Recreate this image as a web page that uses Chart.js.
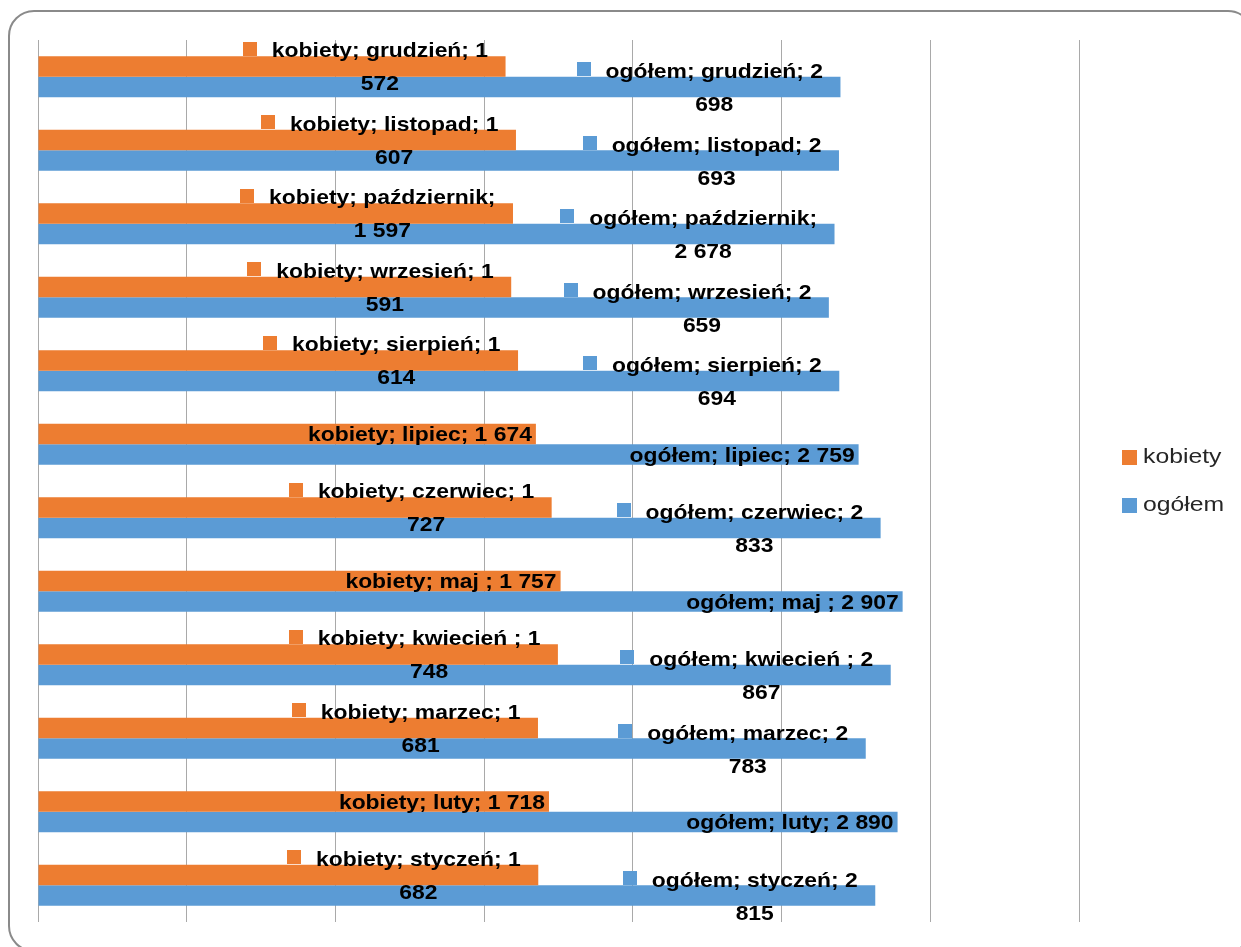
<!DOCTYPE html>
<html lang="pl">
<head>
<meta charset="utf-8">
<title>kobiety / ogółem</title>
<script src="https://cdn.jsdelivr.net/npm/chart.js@4.4.1/dist/chart.umd.min.js"></script>
<style>
    html, body { margin: 0; padding: 0; background: #fff; overflow: hidden; }
    #wrap { position: relative; width: 1241px; height: 947px; overflow: hidden; }
    #frame {
        position: absolute; left: 8px; top: 10px; width: 1246px; height: 942px;
        box-sizing: border-box; border: 2px solid #8a8a8a; border-radius: 26px;
    }
    #chart { position: absolute; left: 0; top: 0; }
</style>
</head>
<body>
<div id="wrap">
    <div id="frame"></div>
    <canvas id="chart" width="1241" height="947"></canvas>
</div>
<script>
// --- dane ---
const months = ['styczeń', 'luty', 'marzec', 'kwiecień ', 'maj ', 'czerwiec',
                'lipiec', 'sierpień', 'wrzesień', 'październik', 'listopad', 'grudzień'];
const kobiety = [1682, 1718, 1681, 1748, 1757, 1727, 1674, 1614, 1591, 1597, 1607, 1572];
const ogolem  = [2815, 2890, 2783, 2867, 2907, 2833, 2759, 2694, 2659, 2678, 2693, 2698];
const seriesNames = ['kobiety', 'ogółem'];
const seriesColors = ['#ED7D31', '#5B9BD5'];
const axisMax = 3500;
const axisStep = 500;

const FONT = '"Liberation Sans", Arial, sans-serif';
const LABEL_SX = 1.09;      // węższy Calibri -> rozciągnięcie w poziomie
const LABEL_MAX_W = 235;
const LINE_H = 33;

function fmt(v) {
    return String(v).replace(/\B(?=(\d{3})+(?!\d))/g, ' ');
}

function wrapWords(ctx, text) {
    const words = text.split(' ');
    const lines = [];
    let cur = '';
    words.forEach(w => {
        const test = cur ? cur + ' ' + w : w;
        if (cur && ctx.measureText(test).width * LABEL_SX > LABEL_MAX_W) {
            lines.push(cur);
            cur = w;
        } else {
            cur = test;
        }
    });
    if (cur) lines.push(cur);
    return lines;
}

function drawScaled(ctx, text, x, y, sx) {
    ctx.save();
    ctx.translate(x, y);
    ctx.scale(sx, 1);
    ctx.fillText(text, 0, 0);
    ctx.restore();
}

// etykiety danych w stylu Excela (klucz legendy + tekst zawijany)
const barLabels = {
    id: 'barLabels',
    afterDatasetsDraw(chart) {
        const ctx = chart.ctx;
        ctx.save();
        ctx.font = 'bold 21px ' + FONT;
        ctx.textBaseline = 'middle';
        ctx.textAlign = 'left';
        chart.data.datasets.forEach((ds, di) => {
            const meta = chart.getDatasetMeta(di);
            meta.data.forEach((bar, i) => {
                const text = `${ds.label}; ${chart.data.labels[i]}; ${fmt(ds.data[i])}`;
                const lines = wrapWords(ctx, text);
                const widths = lines.map(l => ctx.measureText(l).width * LABEL_SX);
                const maxW = Math.max(...widths);
                const wrapped = lines.length > 1;
                const right = bar.x - (wrapped ? 17.5 : 4);
                const left = right - maxW;
                const yc = bar.y + (wrapped ? 1.7 : 1.5);
                const y0 = yc - (lines.length - 1) / 2 * LINE_H;

                ctx.fillStyle = ds.backgroundColor;
                ctx.fillRect(Math.round(left - 29), Math.round(y0 - 10), 14, 14);

                ctx.fillStyle = '#000';
                lines.forEach((l, li) => {
                    drawScaled(ctx, l, left + (maxW - widths[li]) / 2, y0 + li * LINE_H, LABEL_SX);
                });
            });
        });
        ctx.restore();
    }
};

// legenda po prawej
const sideLegend = {
    id: 'sideLegend',
    afterDraw(chart) {
        const ctx = chart.ctx;
        const area = chart.chartArea;
        const cx = area.right + 43;
        const cy = (area.top + area.bottom) / 2;
        ctx.save();
        ctx.font = '19.5px ' + FONT;
        ctx.textBaseline = 'middle';
        ctx.textAlign = 'left';
        chart.data.datasets.forEach((ds, di) => {
            const y = cy + (di - 0.5) * 48;
            ctx.fillStyle = ds.backgroundColor;
            ctx.fillRect(cx, Math.round(y - 7.5), 15, 15);
            ctx.fillStyle = '#262626';
            drawScaled(ctx, ds.label, cx + 21, y + 1, 1.27);
        });
        ctx.restore();
    }
};

new Chart(document.getElementById('chart'), {
    type: 'bar',
    data: {
        labels: months,
        datasets: [
            { label: seriesNames[0], data: kobiety, backgroundColor: seriesColors[0] },
            { label: seriesNames[1], data: ogolem, backgroundColor: seriesColors[1] }
        ]
    },
    options: {
        indexAxis: 'y',
        responsive: false,
        animation: false,
        devicePixelRatio: 1,
        layout: { padding: { left: 38, top: 40, right: 162, bottom: 25 } },
        datasets: { bar: { categoryPercentage: 0.558, barPercentage: 1, borderWidth: 0 } },
        plugins: {
            legend: { display: false },
            tooltip: { enabled: false }
        },
        scales: {
            x: {
                min: 0, max: axisMax,
                ticks: { display: false, stepSize: axisStep },
                grid: { color: '#a9a9a9', lineWidth: 1, drawTicks: false },
                border: { display: false }
            },
            y: {
                display: false,
                reverse: true
            }
        }
    },
    plugins: [barLabels, sideLegend]
});
</script>
</body>
</html>
